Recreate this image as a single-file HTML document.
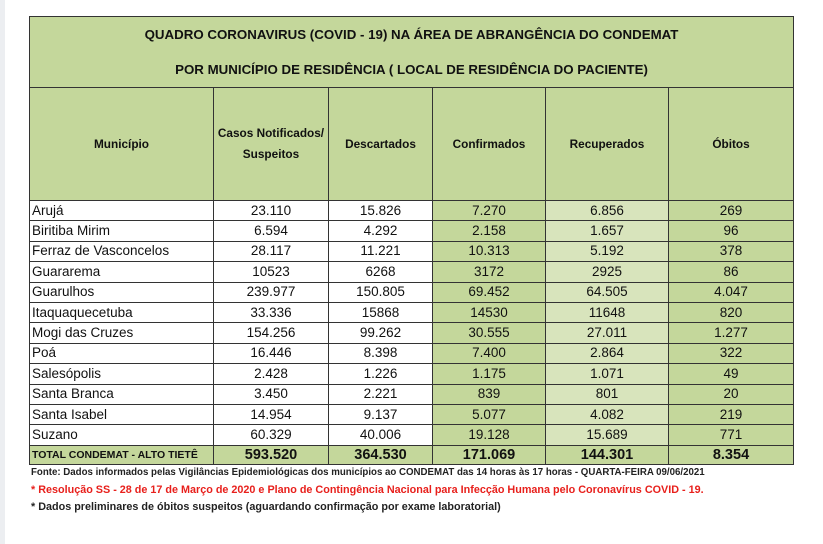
<!DOCTYPE html>
<html><head><meta charset="utf-8"><style>
body{margin:0;width:823px;height:544px;background:#fff;position:relative;overflow:hidden;font-family:"Liberation Sans",sans-serif;}
.strip{position:absolute;left:0;top:0;width:5px;height:544px;background:#eceef1;}
table{position:absolute;left:29px;top:16px;border-collapse:collapse;table-layout:fixed;}
td{border:1.3px solid #333;padding:0;text-align:center;font-size:13.5px;color:#111;height:19.4px;line-height:18px;white-space:nowrap;overflow:hidden;}
td.l{text-align:left;padding-left:2px;}
.g{background:#c4d79b;}
.lg{background:#d8e4bc;}
.title td{height:70px;font-weight:bold;font-size:13.3px;line-height:35px;background:#c4d79b;}
.hdr td{height:112px;font-weight:bold;font-size:11.8px;line-height:21px;background:#c4d79b;}
.tot td{height:18px;font-weight:bold;font-size:14.5px;background:#c4d79b;}
.tot td.l{font-size:10.5px;}
.f{position:absolute;left:31px;font-weight:bold;white-space:nowrap;}
</style></head><body>
<div class="strip"></div>
<table>
<colgroup><col style="width:184px"><col style="width:115px"><col style="width:104px"><col style="width:113px"><col style="width:123px"><col style="width:125px"></colgroup>
<tr class="title"><td colspan="6">QUADRO CORONAVIRUS (COVID - 19) NA ÁREA DE ABRANGÊNCIA DO CONDEMAT<br>POR MUNICÍPIO DE RESIDÊNCIA ( LOCAL DE RESIDÊNCIA DO PACIENTE)</td></tr>
<tr class="hdr"><td>Município</td><td>Casos Notificados/<br>Suspeitos</td><td>Descartados</td><td>Confirmados</td><td>Recuperados</td><td>Óbitos</td></tr>
<tr><td class="l">Arujá</td><td>23.110</td><td>15.826</td><td class="g">7.270</td><td class="lg">6.856</td><td class="g">269</td></tr>
<tr><td class="l">Biritiba Mirim</td><td>6.594</td><td>4.292</td><td class="g">2.158</td><td class="lg">1.657</td><td class="g">96</td></tr>
<tr><td class="l">Ferraz de Vasconcelos</td><td>28.117</td><td>11.221</td><td class="g">10.313</td><td class="lg">5.192</td><td class="g">378</td></tr>
<tr><td class="l">Guararema</td><td>10523</td><td>6268</td><td class="g">3172</td><td class="lg">2925</td><td class="g">86</td></tr>
<tr><td class="l">Guarulhos</td><td>239.977</td><td>150.805</td><td class="g">69.452</td><td class="lg">64.505</td><td class="g">4.047</td></tr>
<tr><td class="l">Itaquaquecetuba</td><td>33.336</td><td>15868</td><td class="g">14530</td><td class="lg">11648</td><td class="g">820</td></tr>
<tr><td class="l">Mogi das Cruzes</td><td>154.256</td><td>99.262</td><td class="g">30.555</td><td class="lg">27.011</td><td class="g">1.277</td></tr>
<tr><td class="l">Poá</td><td>16.446</td><td>8.398</td><td class="g">7.400</td><td class="lg">2.864</td><td class="g">322</td></tr>
<tr><td class="l">Salesópolis</td><td>2.428</td><td>1.226</td><td class="g">1.175</td><td class="lg">1.071</td><td class="g">49</td></tr>
<tr><td class="l">Santa Branca</td><td>3.450</td><td>2.221</td><td class="g">839</td><td class="lg">801</td><td class="g">20</td></tr>
<tr><td class="l">Santa Isabel</td><td>14.954</td><td>9.137</td><td class="g">5.077</td><td class="lg">4.082</td><td class="g">219</td></tr>
<tr><td class="l">Suzano</td><td>60.329</td><td>40.006</td><td class="g">19.128</td><td class="lg">15.689</td><td class="g">771</td></tr>
<tr class="tot"><td class="l">TOTAL CONDEMAT - ALTO TIETÊ</td><td>593.520</td><td>364.530</td><td>171.069</td><td>144.301</td><td>8.354</td></tr>
</table>
<div class="f" style="top:467px;font-size:9.7px;color:#222;">Fonte: Dados informados pelas Vigilâncias Epidemiológicas dos municípios ao CONDEMAT das 14 horas às 17 horas - QUARTA-FEIRA 09/06/2021</div>
<div class="f" style="top:484px;font-size:10.8px;color:#e8201c;">* Resolução SS - 28 de 17 de Março de 2020 e Plano de Contingência Nacional para Infecção Humana pelo Coronavírus COVID - 19.</div>
<div class="f" style="top:501px;font-size:10.8px;color:#222;">* Dados preliminares de óbitos suspeitos (aguardando confirmação por exame laboratorial)</div>
</body></html>
